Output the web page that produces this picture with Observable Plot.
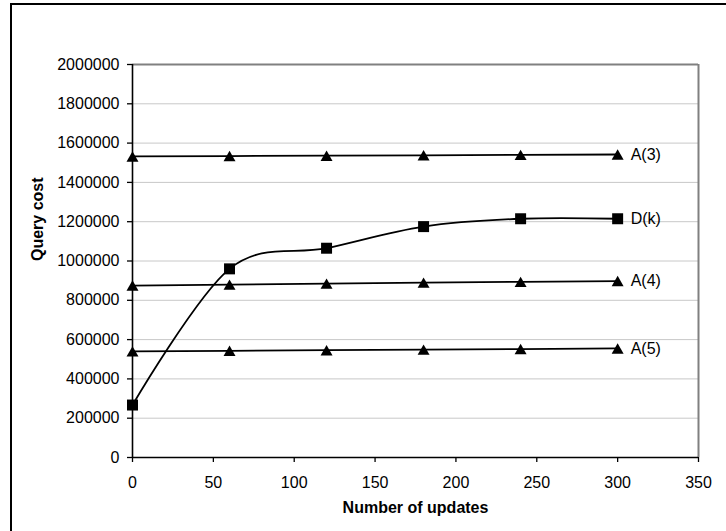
<!DOCTYPE html>
<html>
<head>
<meta charset="utf-8">
<script src="https://cdn.jsdelivr.net/npm/d3@7"></script>
<script src="https://cdn.jsdelivr.net/npm/@observablehq/plot@0.6"></script>
<style>
  html, body { margin: 0; padding: 0; background: #fff; overflow: hidden; }
  #wrap { position: relative; width: 726px; height: 531px; }
  #wrap svg { position: absolute; left: 0; top: 0; }
  #frame {
    position: absolute; left: 10px; top: 3px; width: 760px; height: 560px;
    border-left: 2px solid #000; border-top: 2px solid #000; box-sizing: border-box;
  }
</style>
</head>
<body>
<div id="wrap"><div id="frame"></div></div>
<script>
// Number of updates at which the query cost was measured
const updates = [0, 60, 120, 180, 240, 300];

// Query cost per strategy
const costA3 = [1532000, 1534000, 1536000, 1538000, 1540000, 1542000];
const costDk = [267000, 960000, 1065000, 1175000, 1215000, 1215000];
const costA4 = [875000, 880000, 885000, 890000, 894000, 898000];
const costA5 = [540000, 543000, 546000, 549000, 552000, 555000];

const seriesNames = ["A(3)", "D(k)", "A(4)", "A(5)"];
const seriesCosts = [costA3, costDk, costA4, costA5];

// Axis ticks
const xTicks = [0, 50, 100, 150, 200, 250, 300, 350];
const yTicks = [0, 200000, 400000, 600000, 800000, 1000000, 1200000, 1400000, 1600000, 1800000, 2000000];

const rows = seriesNames.flatMap((name, i) =>
  updates.map((u, j) => ({series: name, updates: u, cost: seriesCosts[i][j]}))
);
const lastRows = rows.filter(d => d.updates === updates[updates.length - 1]);
const isD = d => d.series === "D(k)";

// Triangle marker whose bounding box is centred on the point
const triangle = {
  draw(context, size) {
    const a = Math.sqrt(size / Math.PI);
    context.moveTo(0, -a);
    context.lineTo(a * 1.15, a);
    context.lineTo(-a * 1.15, a);
    context.closePath();
  }
};

const chart = Plot.plot({
  width: 726,
  height: 531,
  marginLeft: 132,
  marginRight: 28,
  marginTop: 64,
  marginBottom: 74,
  style: {fontFamily: "'Liberation Sans', Arial, Helvetica, sans-serif", fontSize: "16px", color: "#000", background: "transparent"},
  x: {domain: [0, 350]},
  y: {domain: [0, 2000000]},
  marks: [
    Plot.gridY(yTicks, {stroke: "#c8c8c8", strokeOpacity: 1, strokeWidth: 1}),
    Plot.ruleY([2000000], {stroke: "#808080", strokeWidth: 2}),
    Plot.ruleX([350], {stroke: "#808080", strokeWidth: 2}),
    Plot.axisY(yTicks, {tickSize: 5, tickPadding: 8, tickFormat: d3.format("d"), label: null, strokeWidth: 1.3}),
    Plot.axisX(xTicks, {tickSize: 5, tickPadding: 14, tickFormat: d3.format("d"), label: null, strokeWidth: 1.3}),
    Plot.ruleX([0], {stroke: "#000", strokeWidth: 1.6}),
    Plot.ruleY([0], {stroke: "#000", strokeWidth: 1.6}),
    Plot.line(rows.filter(d => !isD(d)), {x: "updates", y: "cost", z: "series", stroke: "#000", strokeWidth: 1.8}),
    Plot.line(rows.filter(isD), {x: "updates", y: "cost", stroke: "#000", strokeWidth: 1.8, curve: "cardinal"}),
    Plot.dot(rows.filter(d => !isD(d)), {x: "updates", y: "cost", symbol: triangle, r: 5.2, fill: "#000", stroke: "none"}),
    Plot.dot(rows.filter(isD), {x: "updates", y: "cost", symbol: "square", r: 6.2, fill: "#000", stroke: "none"}),
    Plot.text(lastRows, {x: "updates", y: "cost", text: "series", textAnchor: "start", dx: 13, fill: "#000"}),
    Plot.text(["Query cost"], {frameAnchor: "left", rotate: -90, dx: -95, fontWeight: "bold", fill: "#000"}),
    Plot.text(["Number of updates"], {frameAnchor: "bottom", dy: 55, fontWeight: "bold", fill: "#000"})
  ]
});

document.getElementById("wrap").appendChild(chart);
</script>
</body>
</html>
